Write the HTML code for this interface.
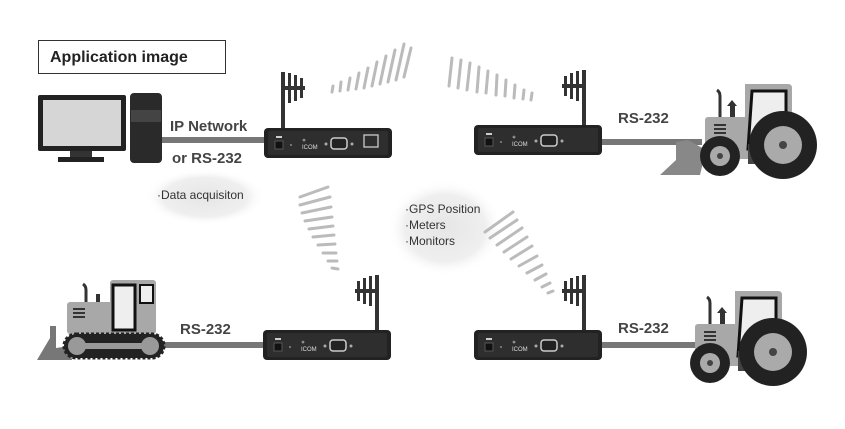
<!DOCTYPE html>
<html><head><meta charset="utf-8"><style>
html,body{margin:0;padding:0;background:#fff;}
svg{display:block;}
text{font-family:"Liberation Sans",sans-serif;}
</style></head><body>
<svg width="845" height="429" viewBox="0 0 845 429" xmlns="http://www.w3.org/2000/svg">
<defs>
<radialGradient id="blob" cx="50%" cy="50%" r="50%">
<stop offset="0" stop-color="#e6e6e6"/><stop offset="0.7" stop-color="#efefef"/><stop offset="1" stop-color="#fff" stop-opacity="0"/>
</radialGradient>
<g id="router">
<rect x="0" y="0" width="128" height="30" rx="4" fill="#222"/>
<rect x="4" y="3" width="120" height="24" rx="2" fill="#2e2e2e"/>
<rect x="12" y="8" width="6" height="2" fill="#ccc"/>
<rect x="11" y="13" width="8" height="8" fill="#111" stroke="#555" stroke-width="1"/>
<circle cx="27" cy="17" r="1" fill="#888"/>
<text x="38" y="21" font-size="6" fill="#ddd">ICOM</text>
<circle cx="40" cy="12" r="1" fill="none" stroke="#ccc" stroke-width="0.6"/>
<circle cx="62" cy="16" r="1.5" fill="#aaa"/>
<rect x="67" y="10" width="16" height="11" rx="3" fill="#222" stroke="#ccc" stroke-width="1.5"/>
<circle cx="88" cy="16" r="1.5" fill="#aaa"/>
</g>
<g id="antenna">
<rect x="-2" y="0" width="4" height="56" fill="#333"/>
<rect x="-22" y="14" width="22" height="4" fill="#333"/>
<rect x="-20" y="6" width="3" height="20" fill="#333"/>
<rect x="-14" y="3" width="3" height="26" fill="#333"/>
<rect x="-8" y="1" width="3" height="30" fill="#333"/>
</g>
<g id="tractor">
<rect x="5" y="33" width="52" height="42" rx="3" fill="#a8a8a8"/>
<rect x="14" y="40" width="12" height="2" fill="#333"/><rect x="14" y="44" width="12" height="2" fill="#333"/><rect x="14" y="48" width="12" height="2" fill="#333"/>
<path d="M20 33 V12 Q20 8 17 6" stroke="#333" stroke-width="3" fill="none"/>
<rect x="30" y="22" width="5" height="11" fill="#333"/><path d="M27 22 L32 16 L37 22Z" fill="#333"/>
<path d="M45 0 H88 Q92 0 92 4 V60 H45Z" fill="#a8a8a8"/>
<path d="M52 7 H86 V40 Q65 40 58 65 H48Z" fill="#eee" stroke="#111" stroke-width="3"/>
<rect x="48" y="60" width="30" height="20" fill="#444"/>
<circle cx="83" cy="61" r="34" fill="#222"/>
<circle cx="83" cy="61" r="19" fill="#aaa"/>
<circle cx="83" cy="61" r="4" fill="#444"/>
<circle cx="20" cy="72" r="20" fill="#222"/>
<circle cx="20" cy="72" r="10" fill="#aaa"/>
<circle cx="20" cy="72" r="3" fill="#444"/>
</g>
</defs>

<ellipse cx="205" cy="197" rx="60" ry="28" fill="url(#blob)"/>
<ellipse cx="445" cy="228" rx="58" ry="48" fill="url(#blob)"/>

<rect x="38.5" y="40.5" width="187" height="33" fill="#fff" stroke="#333" stroke-width="1"/>
<text x="50" y="62" font-size="16" font-weight="bold" fill="#222">Application image</text>

<rect x="38" y="95" width="88" height="56" rx="2" fill="#222"/>
<rect x="43" y="100" width="78" height="46" fill="#d6d6d6"/>
<rect x="70" y="151" width="22" height="6" fill="#333"/>
<rect x="58" y="157" width="46" height="5" fill="#222"/>
<rect x="130" y="93" width="32" height="70" rx="4" fill="#2a2a2a"/>
<rect x="131" y="110" width="30" height="12" fill="#444"/>
<rect x="162" y="137" width="104" height="6" fill="#777"/>
<text x="170" y="131" font-size="15" font-weight="bold" fill="#444">IP Network</text>
<text x="172" y="163" font-size="15" font-weight="bold" fill="#444">or RS-232</text>
<text x="157" y="199" font-size="12" fill="#333">·Data acquisiton</text>

<use href="#antenna" transform="translate(283,72) scale(-1,1)"/>
<use href="#router" x="264" y="128"/>
<rect x="364" y="135" width="14" height="12" fill="none" stroke="#ccc" stroke-width="1.3"/>

<g stroke="#bbb" stroke-width="3" stroke-linecap="round" fill="none">
<line x1="332" y1="92" x2="333" y2="86"/><line x1="340" y1="91" x2="341" y2="82"/>
<line x1="348" y1="90" x2="350" y2="78"/><line x1="356" y1="89" x2="359" y2="73"/>
<line x1="364" y1="88" x2="368" y2="68"/><line x1="372" y1="86" x2="377" y2="62"/>
<line x1="380" y1="84" x2="386" y2="56"/><line x1="388" y1="82" x2="395" y2="50"/>
<line x1="396" y1="80" x2="404" y2="44"/><line x1="404" y1="77" x2="411" y2="48"/>
<line x1="452" y1="58" x2="449" y2="86"/><line x1="461" y1="60" x2="458" y2="88"/>
<line x1="470" y1="63" x2="467" y2="90"/><line x1="479" y1="67" x2="477" y2="92"/>
<line x1="488" y1="71" x2="486" y2="93"/><line x1="497" y1="75" x2="496" y2="95"/>
<line x1="506" y1="80" x2="505" y2="96"/><line x1="515" y1="85" x2="514" y2="98"/>
<line x1="524" y1="90" x2="523" y2="99"/><line x1="532" y1="93" x2="531" y2="100"/>
<line x1="300" y1="197" x2="328" y2="187"/><line x1="300" y1="205" x2="330" y2="197"/>
<line x1="302" y1="213" x2="331" y2="207"/><line x1="305" y1="221" x2="332" y2="217"/>
<line x1="309" y1="229" x2="333" y2="226"/><line x1="313" y1="237" x2="334" y2="235"/>
<line x1="318" y1="245" x2="335" y2="244"/><line x1="323" y1="253" x2="336" y2="253"/>
<line x1="328" y1="261" x2="337" y2="261"/><line x1="332" y1="268" x2="338" y2="269"/>
<line x1="485" y1="232" x2="513" y2="212"/><line x1="490" y1="238" x2="517" y2="220"/>
<line x1="497" y1="245" x2="522" y2="228"/><line x1="504" y1="252" x2="527" y2="237"/>
<line x1="511" y1="259" x2="532" y2="246"/><line x1="519" y1="266" x2="537" y2="256"/>
<line x1="527" y1="273" x2="542" y2="265"/><line x1="535" y1="280" x2="546" y2="274"/>
<line x1="542" y1="287" x2="550" y2="283"/><line x1="548" y1="293" x2="553" y2="291"/>
</g>

<text x="405" y="213" font-size="12" fill="#333">·GPS Position</text>
<text x="405" y="229" font-size="12" fill="#333">·Meters</text>
<text x="405" y="245" font-size="12" fill="#333">·Monitors</text>

<use href="#antenna" x="584" y="70"/>
<use href="#router" x="474" y="125"/>
<rect x="602" y="139" width="100" height="6" fill="#777"/>
<text x="618" y="123" font-size="15" font-weight="bold" fill="#444">RS-232</text>
<path d="M660 175 L676 160 V142 L688 140 L706 150 L700 175Z" fill="#888"/>
<use href="#tractor" x="700" y="84"/>

<rect x="162" y="342" width="103" height="6" fill="#777"/>
<text x="180" y="334" font-size="15" font-weight="bold" fill="#444">RS-232</text>
<path d="M37 360 L50 338 V326 L56 326 V348 L70 346 L72 360Z" fill="#777"/>
<rect x="67" y="302" width="66" height="32" rx="3" fill="#a8a8a8"/>
<rect x="110" y="280" width="46" height="54" rx="3" fill="#a8a8a8"/>
<rect x="113" y="285" width="22" height="45" fill="#eee" stroke="#111" stroke-width="3"/>
<rect x="140" y="285" width="13" height="18" fill="#eee" stroke="#111" stroke-width="2"/>
<rect x="73" y="308" width="12" height="2" fill="#333"/><rect x="73" y="312" width="12" height="2" fill="#333"/><rect x="73" y="316" width="12" height="2" fill="#333"/>
<path d="M86 302 V290 Q86 286 83 284" stroke="#333" stroke-width="3" fill="none"/>
<rect x="96" y="294" width="4" height="8" fill="#333"/>
<rect x="64" y="334" width="100" height="24" rx="12" fill="#222" stroke="#222" stroke-width="3" stroke-dasharray="3 2"/>
<circle cx="77" cy="346" r="9" fill="#999"/><circle cx="150" cy="346" r="9" fill="#999"/>
<rect x="77" y="343" width="73" height="6" fill="#999"/>
<use href="#antenna" x="377" y="275"/>
<use href="#router" x="263" y="330"/>

<use href="#antenna" x="584" y="275"/>
<use href="#router" x="474" y="330"/>
<rect x="602" y="342" width="100" height="6" fill="#777"/>
<text x="618" y="333" font-size="15" font-weight="bold" fill="#444">RS-232</text>
<use href="#tractor" x="690" y="291"/>
</svg>
</body></html>
